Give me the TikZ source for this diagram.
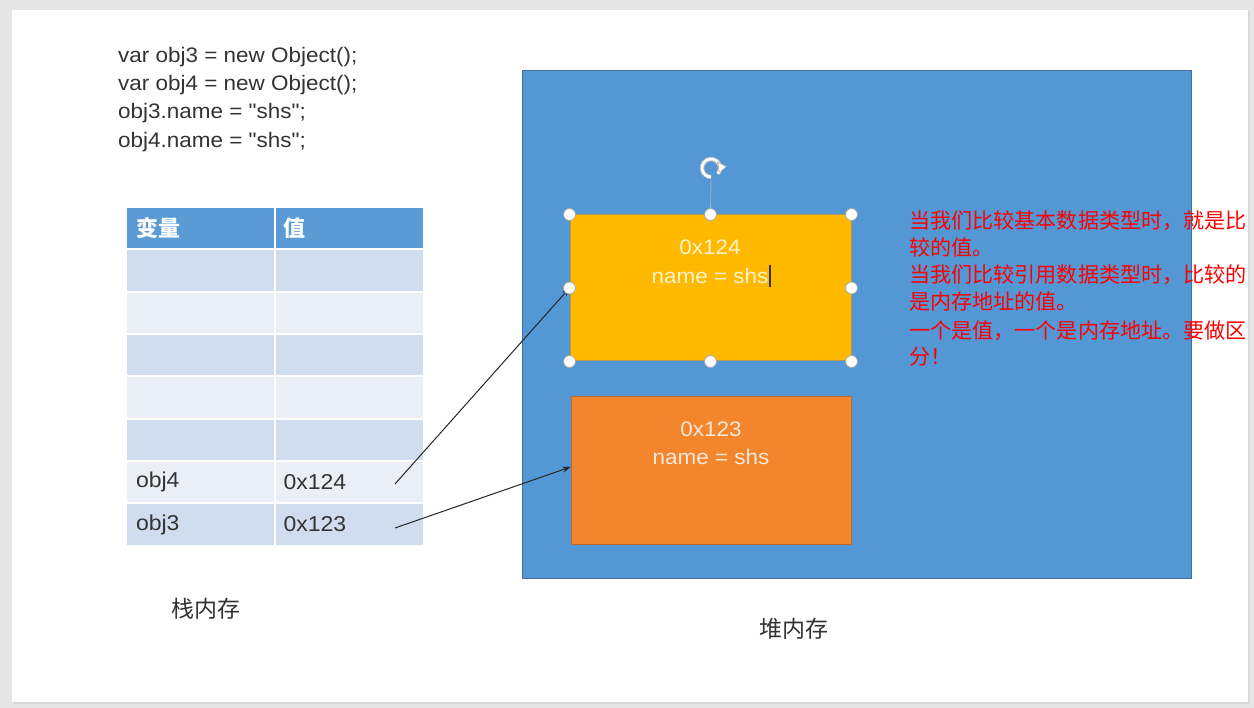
\documentclass[tikz,border=0pt]{standalone}
\usepackage{fontspec}
\setmainfont{Liberation Sans}[FakeStretch=1.07, Ligatures=TeXOff]
\newfontfamily\cjk{Noto Sans CJK SC}
\usetikzlibrary{arrows.meta,calc}
\definecolor{pageGray}{HTML}{E6E6E6}
\definecolor{heapBlue}{HTML}{5397D5}
\definecolor{heapEdge}{HTML}{41719C}
\definecolor{hdrBlue}{HTML}{5B9BD5}
\definecolor{rowDark}{HTML}{CFDDEE}
\definecolor{rowLight}{HTML}{E9EEF7}
\definecolor{yel}{HTML}{FFBA00}
\definecolor{yelText}{HTML}{FFF2CC}
\definecolor{org}{HTML}{F3852C}
\definecolor{orgEdge}{HTML}{C0682A}
\definecolor{orgText}{HTML}{FDE9D9}
\definecolor{txtGray}{HTML}{333333}
\tikzset{
  codeline/.style={anchor=west, inner sep=0pt, font=\fontsize{21}{24}\selectfont, text=txtGray},
  redline/.style={anchor=west, inner sep=0pt, font=\cjk\fontsize{21.1}{24}\selectfont, text=red},
  cellbox/.style={draw=none, minimum width=147pt, minimum height=40.5pt, inner sep=0pt},
  celltext/.style={anchor=west, inner sep=0pt, font=\fontsize{21.5}{24}\selectfont, text=txtGray},
  hdrtext/.style={anchor=west, inner sep=0pt, font=\cjk\bfseries\fontsize{22}{24}\selectfont, text=white},
  boxtext/.style={inner sep=0pt, font=\fontsize{21}{24}\selectfont},
  handle/.style={circle, draw=gray!70, fill=white, line width=0.8pt, minimum size=12pt, inner sep=0pt},
  connector/.style={draw=black!85, line width=1pt},
  caption/.style={inner sep=0pt, font=\cjk\fontsize{23}{26}\selectfont, text=txtGray}
}
\begin{document}
\begin{tikzpicture}[x=1pt,y=-1pt]
\useasboundingbox (0,0) rectangle (1254,708);
\fill[pageGray] (0,0) rectangle (1254,708);
\fill[black!15] (13,11) rectangle (1250,704);
\fill[white] (12,10) rectangle (1248,702);

% code
\node[codeline] (code1) at (118,57) {var obj3 = new Object();};
\node[codeline] (code2) at (118,85) {var obj4 = new Object();};
\node[codeline] (code3) at (118,113) {obj3.name = "shs";};
\node[codeline] (code4) at (118,142) {obj4.name = "shs";};

% table
\node[cellbox, fill=hdrBlue] (h1) at (200.5,228) {};
\node[cellbox, fill=hdrBlue] (h2) at (349,228) {};
\node[hdrtext] (h1t) at ([xshift=9pt]h1.west) {变量};
\node[hdrtext] (h2t) at ([xshift=8pt]h2.west) {值};
\node[cellbox, fill=rowDark]  (r1a) at (200.5,270.5) {};
\node[cellbox, fill=rowDark]  (r1b) at (349,270.5) {};
\node[cellbox, fill=rowLight] (r2a) at (200.5,313) {};
\node[cellbox, fill=rowLight] (r2b) at (349,313) {};
\node[cellbox, fill=rowDark]  (r3a) at (200.5,355) {};
\node[cellbox, fill=rowDark]  (r3b) at (349,355) {};
\node[cellbox, fill=rowLight] (r4a) at (200.5,397.5) {};
\node[cellbox, fill=rowLight] (r4b) at (349,397.5) {};
\node[cellbox, fill=rowDark]  (r5a) at (200.5,440) {};
\node[cellbox, fill=rowDark]  (r5b) at (349,440) {};
\node[cellbox, fill=rowLight] (r6a) at (200.5,482) {};
\node[cellbox, fill=rowLight] (r6b) at (349,482) {};
\node[cellbox, fill=rowDark]  (r7a) at (200.5,524.5) {};
\node[cellbox, fill=rowDark]  (r7b) at (349,524.5) {};
\node[celltext] (t6a) at ([xshift=9pt]r6a.west) {obj4};
\node[celltext] (t6b) at ([xshift=8pt]r6b.west) {0x124};
\node[celltext] (t7a) at ([xshift=9pt]r7a.west) {obj3};
\node[celltext] (t7b) at ([xshift=8pt]r7b.west) {0x123};

\node[caption] (stack) at (206,609) {栈内存};

% heap
\node[draw=heapEdge, fill=heapBlue, line width=1pt, minimum width=669pt, minimum height=507pt, inner sep=0pt] (heap) at (856.5,324.5) {};
\node[caption] (heaplbl) at (794,629) {堆内存};

\node[draw=gray!60!yel, fill=yel, line width=1pt, minimum width=281pt, minimum height=146pt, inner sep=0pt] (yelbox) at (710.5,288) {};
\node[boxtext, text=yelText] (y1) at (710,247) {0x124};
\node[boxtext, text=yelText] (y2) at (710,276) {name = shs};
\draw[black!80, line width=1.3pt] (y2.east) ++(1.5,-11) -- ++(0,22);

\node[draw=orgEdge, fill=org, line width=1pt, minimum width=280pt, minimum height=148pt, inner sep=0pt] (orgbox) at (711,471) {};
\node[boxtext, text=orgText] (o1) at (711,429) {0x123};
\node[boxtext, text=orgText] (o2) at (711,457) {name = shs};

% connectors
\coordinate (s4) at (395,484);
\coordinate (s3) at (395,528);
\draw[connector, -{Stealth[length=8pt,width=6pt]}] (s4) -- (yelbox.west);
\draw[connector, -{Stealth[length=8pt,width=6pt]}] (s3) -- ([yshift=4pt]orgbox.west);

% selection handles
\coordinate (rot) at (711,168);
\draw[gray!60, line width=0.8pt] (rot) ++(0,12) -- (yelbox.north);
\draw[gray!55, line width=4.5pt] ([shift={(40:9)}]rot) arc[start angle=40, end angle=-270, radius=9];
\draw[white, line width=2.6pt] ([shift={(40:9)}]rot) arc[start angle=40, end angle=-270, radius=9];
\fill[gray!55] ([shift={(-2,-6)}]rot) ++(9,6) ++(-1,-6.5) -- ++(10,5) -- ++(-8,6) -- cycle;
\fill[white] ([shift={(0,0)}]rot) ++(9,0) ++(-1.5,-5) -- ++(7,4) -- ++(-6,4.5) -- cycle;
\node[handle] (hnw) at (yelbox.north west) {};
\node[handle] (hn) at (yelbox.north) {};
\node[handle] (hne) at (yelbox.north east) {};
\node[handle] (hw) at (yelbox.west) {};
\node[handle] (he) at (yelbox.east) {};
\node[handle] (hsw) at (yelbox.south west) {};
\node[handle] (hs) at (yelbox.south) {};
\node[handle] (hse) at (yelbox.south east) {};

% red note
\node[redline] (n1) at (909,221) {当我们比较基本数据类型时，就是比};
\node[redline] (n2) at (909,247) {较的值。};
\node[redline] (n3) at (909,275) {当我们比较引用数据类型时，比较的};
\node[redline] (n4) at (909,301) {是内存地址的值。};
\node[redline] (n5) at (909,331) {一个是值，一个是内存地址。要做区};
\node[redline] (n6) at (909,357) {分！};
\end{tikzpicture}
\end{document}
